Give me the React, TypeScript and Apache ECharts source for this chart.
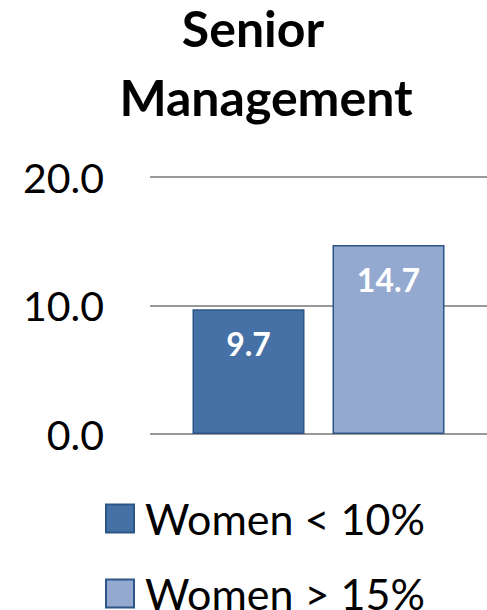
import React, { useEffect, useRef } from "react";
import * as echarts from "echarts";

const categories = ["Senior Management"];
const seriesNames = ["Women < 10%", "Women > 15%"];
const seriesValues = [[9.7], [14.7]];
const seriesColors = ["#4571a7", "#94a9d0"];
const titleLines = ["Senior", "Management"];
const yTicks = { min: 0, max: 20, interval: 10 };

export default function App() {
  const ref = useRef<HTMLDivElement>(null);
  useEffect(() => {
    if (!ref.current) return;
    const chart = echarts.init(ref.current, null, { renderer: "svg" });
    const font = "Lato, 'Open Sans', sans-serif";
    const legendTops = [497, 572];
    chart.setOption({
      animation: false,
      textStyle: { fontFamily: font },
      graphic: [
        {
          type: "text",
          x: 253,
          y: 28,
          style: {
            text: titleLines[0],
            font: `bold 50px ${font}`,
            fill: "#000",
            textAlign: "center",
            textVerticalAlign: "middle",
          },
        },
        {
          type: "text",
          x: 266,
          y: 97,
          style: {
            text: titleLines[1],
            font: `bold 50px ${font}`,
            fill: "#000",
            textAlign: "center",
            textVerticalAlign: "middle",
          },
        },
      ],
      legend: seriesNames.map((name, i) => ({
        orient: "vertical",
        left: 105,
        top: legendTops[i],
        padding: 0,
        itemWidth: 28,
        itemHeight: 28,
        icon: "rect",
        data: [name],
        textStyle: {
          fontFamily: font,
          fontSize: 43,
          lineHeight: 28,
          color: "#000",
          padding: [0, 0, 0, 6],
        },
      })),
      grid: { left: 150, right: 0, top: 177, bottom: 610 - 434, containLabel: false },
      xAxis: {
        type: "category",
        data: categories,
        axisLine: { show: false },
        axisTick: { show: false },
        axisLabel: { show: false },
      },
      yAxis: {
        type: "value",
        min: yTicks.min,
        max: yTicks.max,
        interval: yTicks.interval,
        axisLine: { show: false },
        axisTick: { show: false },
        axisLabel: {
          formatter: (v: number) => v.toFixed(1),
          fontFamily: font,
          fontSize: 41,
          color: "#000",
          margin: 46,
        },
        splitLine: { lineStyle: { color: "#999999", width: 2 } },
      },
      series: seriesNames.map((name, i) => ({
        name,
        type: "bar",
        data: seriesValues[i],
        barWidth: 112,
        barGap: "25%",
        itemStyle: {
          color: seriesColors[i],
          borderColor: "#2d5587",
          borderWidth: 1.5,
        },
        label: {
          show: true,
          position: "insideTop",
          distance: 18,
          formatter: (p: any) => Number(p.value).toFixed(1),
          color: "#fff",
          fontWeight: "bold",
          fontFamily: font,
          fontSize: 32,
        },
      })),
    });
    return () => chart.dispose();
  }, []);
  return (
    <div
      ref={ref}
      style={{ position: "absolute", left: 0, top: 0, width: 487, height: 610, background: "#fff" }}
    />
  );
}
